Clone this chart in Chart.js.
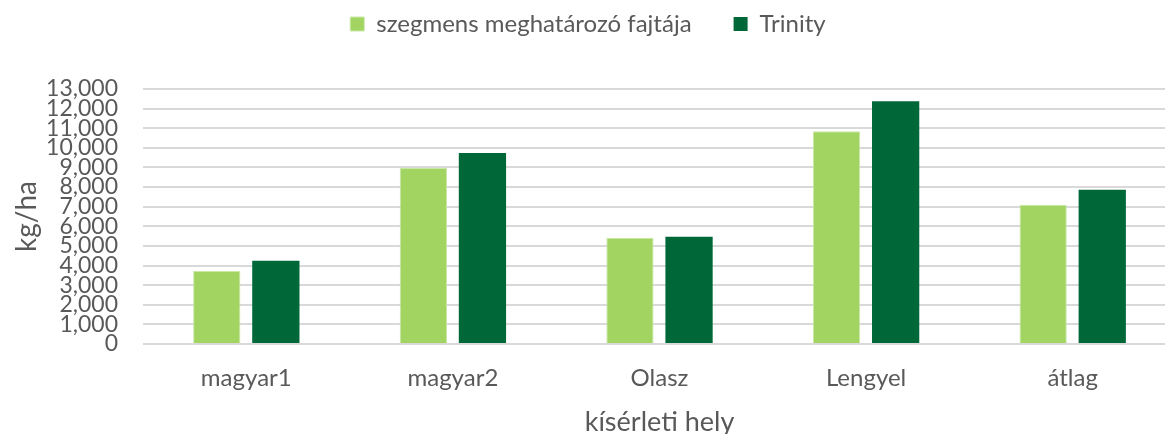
<!DOCTYPE html>
<html>
<head>
<meta charset="utf-8">
<script src="https://cdn.jsdelivr.net/npm/chart.js@4"></script>
<style>
  html, body { margin: 0; padding: 0; background: #fff; overflow: hidden; }
  #wrap { width: 1165px; height: 434px; overflow: hidden; }
</style>
</head>
<body>
<div id="wrap"><canvas id="chart" width="1176" height="434"></canvas></div>
<script>
// data
const categories = ['magyar1', 'magyar2', 'Olasz', 'Lengyel', 'átlag'];
const szegmensValues = [3720, 8970, 5420, 10840, 7100];
const trinityValues = [4240, 9740, 5470, 12380, 7870];
const seriesNames = ['szegmens meghatározó fajtája', 'Trinity'];

const fontFamily = "Lato, 'Open Sans', sans-serif";
const textColor = '#595959';

// give the legend some room below it
const legendSpace = {
  id: 'legendSpace',
  beforeInit(chart) {
    const origFit = chart.legend.fit;
    chart.legend.fit = function() {
      origFit.bind(chart.legend)();
      this.height += 43;
    };
  }
};

const ctx = document.getElementById('chart').getContext('2d');
new Chart(ctx, {
  type: 'bar',
  data: {
    labels: categories,
    datasets: [{
      label: seriesNames[0],
      data: szegmensValues,
      backgroundColor: '#a2d462',
      borderColor: '#c9e8a6',
      borderWidth: 1,
      barPercentage: 0.8,
      categoryPercentage: 0.572
    }, {
      label: seriesNames[1],
      data: trinityValues,
      backgroundColor: '#006838',
      barPercentage: 0.8,
      categoryPercentage: 0.572
    }]
  },
  options: {
    responsive: false,
    animation: false,
    layout: { padding: { top: -30, right: 0, left: 0, bottom: 0 } },
    plugins: {
      legend: {
        position: 'top',
        labels: {
          boxWidth: 14,
          boxHeight: 14,
          padding: 42,
          color: textColor,
          font: { family: fontFamily, size: 24 }
        }
      },
      tooltip: { enabled: false }
    },
    scales: {
      x: {
        grid: { display: false },
        border: { display: false },
        afterFit: function(scale) { scale.height = 90; },
        ticks: {
          color: textColor,
          padding: 12,
          font: { family: fontFamily, size: 24 }
        },
        title: {
          display: true,
          text: 'kísérleti hely',
          color: textColor,
          padding: { top: 2, bottom: -4 },
          font: { family: fontFamily, size: 27 }
        }
      },
      y: {
        min: 0,
        max: 13000,
        grid: { color: '#d9d9d9', lineWidth: 2, drawTicks: false },
        border: { display: false },
        afterFit: function(scale) { scale.width = 143; },
        ticks: {
          stepSize: 1000,
          autoSkip: false,
          color: textColor,
          padding: 25,
          font: { family: fontFamily, size: 23 },
          callback: function(v) { return v.toLocaleString('en-US'); }
        },
        title: {
          display: true,
          text: 'kg/ha',
          color: textColor,
          padding: { top: 10, bottom: 4 },
          font: { family: fontFamily, size: 28 }
        }
      }
    }
  },
  plugins: [legendSpace]
});
</script>
</body>
</html>
